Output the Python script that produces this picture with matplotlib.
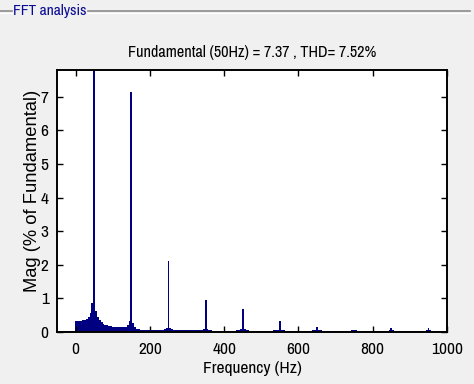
import numpy as np
import matplotlib
matplotlib.use("Agg")
import matplotlib.pyplot as plt
from matplotlib.lines import Line2D

# ---- data (5 Hz bins, % of fundamental) ----
bin_width_hz = 5
freqs_hz = np.arange(0, 1001, bin_width_hz)
mag_0_95 = [0.33, 0.33, 0.33, 0.34, 0.35, 0.37, 0.40, 0.45, 0.58, 0.85,
            100.0, 0.62, 0.45, 0.35, 0.29, 0.25, 0.22, 0.20, 0.18, 0.17]
mag_100_195 = [0.16, 0.16, 0.15, 0.15, 0.15, 0.15, 0.15, 0.16, 0.20, 0.32,
               7.15, 0.28, 0.14, 0.10, 0.08, 0.07, 0.07, 0.06, 0.06, 0.06]
mag_200_295 = [0.06, 0.06, 0.05, 0.05, 0.05, 0.05, 0.06, 0.07, 0.10, 0.12,
               2.10, 0.11, 0.08, 0.05, 0.05, 0.05, 0.05, 0.05, 0.05, 0.05]
mag_300_395 = [0.05, 0.05, 0.05, 0.05, 0.05, 0.05, 0.05, 0.05, 0.07, 0.08,
               0.95, 0.08, 0.06, 0.05, 0.04, 0.04, 0.04, 0.04, 0.04, 0.04]
mag_400_495 = [0.04, 0.04, 0.04, 0.04, 0.04, 0.04, 0.04, 0.05, 0.07, 0.08,
               0.68, 0.08, 0.07, 0.06, 0.04, 0.04, 0.04, 0.04, 0.04, 0.04]
mag_500_595 = [0.04, 0.04, 0.04, 0.04, 0.04, 0.04, 0.04, 0.05, 0.07, 0.07,
               0.32, 0.07, 0.06, 0.04, 0.04, 0.04, 0.04, 0.04, 0.04, 0.04]
mag_600_695 = [0.04, 0.04, 0.04, 0.04, 0.04, 0.04, 0.04, 0.04, 0.05, 0.06,
               0.15, 0.06, 0.05, 0.04, 0.04, 0.04, 0.04, 0.04, 0.04, 0.04]
mag_700_795 = [0.04, 0.04, 0.04, 0.04, 0.04, 0.04, 0.04, 0.04, 0.04, 0.05,
               0.07, 0.05, 0.04, 0.04, 0.04, 0.04, 0.04, 0.04, 0.04, 0.04]
mag_800_895 = [0.04, 0.04, 0.04, 0.04, 0.04, 0.04, 0.04, 0.04, 0.04, 0.05,
               0.12, 0.05, 0.04, 0.04, 0.04, 0.04, 0.04, 0.04, 0.04, 0.04]
mag_900_1000 = [0.04, 0.04, 0.04, 0.04, 0.04, 0.04, 0.04, 0.04, 0.04, 0.05,
                0.12, 0.05, 0.04, 0.04, 0.04, 0.04, 0.04, 0.04, 0.04, 0.04,
                0.03]
magnitudes = (mag_0_95 + mag_100_195 + mag_200_295 + mag_300_395 + mag_400_495
              + mag_500_595 + mag_600_695 + mag_700_795 + mag_800_895 + mag_900_1000)

title_text = "Fundamental (50Hz) = 7.37 , THD= 7.52%"
panel_title = "FFT analysis"
x_ticks = [0, 200, 400, 600, 800, 1000]
y_ticks = [0, 1, 2, 3, 4, 5, 6, 7]

# ---- style ----
narrow = ["Archivo Narrow", "Liberation Sans", "DejaVu Sans"]
plt.rcParams["font.family"] = narrow
bg = "#f0f0f0"
bar_color = "#000080"

fig = plt.figure(figsize=(4.74, 3.84), dpi=100, facecolor=bg)
W, H = 474, 384
ax = fig.add_axes([57 / W, 1 - 332 / H, (447 - 57) / W, (332 - 70) / H])
ax.set_facecolor("white")

edges = np.concatenate([freqs_hz - bin_width_hz / 2, [freqs_hz[-1] + bin_width_hz / 2]])
ax.stairs(magnitudes, edges, fill=True, color=bar_color, baseline=0)
ax.axhline(0, color="black", lw=2.0, zorder=5)

ax.set_xlim(-50, 1000)
ax.set_ylim(0, 7.8)
ax.set_xticks(x_ticks)
ax.set_yticks(y_ticks)
ax.tick_params(direction="in", length=4, width=1, top=True, right=True,
               labelsize=12.5, colors="black")
ax.tick_params(axis="x", pad=7)
ax.tick_params(axis="y", pad=6)
for s in ax.spines.values():
    s.set_linewidth(1.4)
    s.set_color("black")

ax.set_title(title_text, fontsize=11.6, pad=9)
ax.set_xlabel("Frequency (Hz)", fontsize=12.5, labelpad=3)
ax.set_ylabel("Mag (% of Fundamental)", fontsize=13.2,
              family=["Liberation Sans", "DejaVu Sans"])
ax.yaxis.set_label_coords(-0.042, 0.538)

# ---- group box frame ----
for (x0, x1) in [(0, 12), (88, 470)]:
    fig.add_artist(Line2D([x0 / W, x1 / W], [1 - 11 / H] * 2, color="#8c8c8c", lw=1.2))
    fig.add_artist(Line2D([x0 / W, x1 / W], [1 - 12.5 / H] * 2, color="white", lw=0.8))
fig.text(13 / W, 1 - 11 / H, panel_title, color="#0a0a96", fontsize=11.2,
         va="center", ha="left")

fig.savefig("out.png", dpi=100, facecolor=bg)
